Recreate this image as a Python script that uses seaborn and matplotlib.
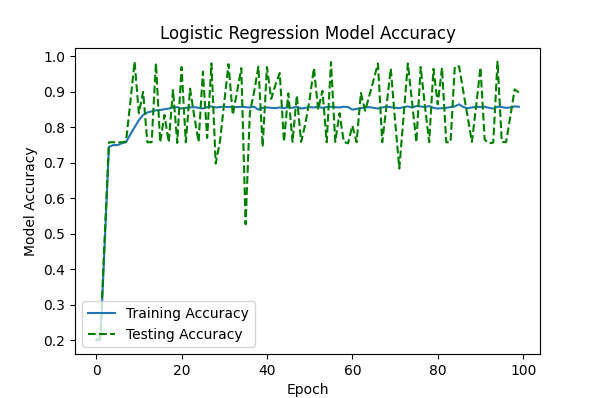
import numpy as np
import pandas as pd
import matplotlib
matplotlib.use("Agg")
import matplotlib.pyplot as plt
import seaborn as sns

epochs = list(range(100))

train_acc = [
    0.200, 0.200, 0.470, 0.745, 0.750, 0.750, 0.755, 0.758, 0.780, 0.800,
    0.820, 0.835, 0.842, 0.845, 0.848, 0.849, 0.851, 0.853, 0.856, 0.857,
    0.853, 0.855, 0.856, 0.857, 0.855, 0.853, 0.857, 0.859, 0.856, 0.857,
    0.858, 0.857, 0.858, 0.857, 0.858, 0.857, 0.856, 0.858, 0.850, 0.855,
    0.856, 0.855, 0.854, 0.856, 0.854, 0.857, 0.855, 0.858, 0.853, 0.855,
    0.857, 0.856, 0.858, 0.855, 0.857, 0.858, 0.857, 0.856, 0.858, 0.857,
    0.850, 0.852, 0.854, 0.856, 0.857, 0.855, 0.853, 0.856, 0.858, 0.857,
    0.855, 0.854, 0.857, 0.859, 0.856, 0.860, 0.859, 0.857, 0.860, 0.855,
    0.853, 0.854, 0.855, 0.857, 0.859, 0.865, 0.857, 0.854, 0.856, 0.858,
    0.857, 0.858, 0.855, 0.853, 0.858, 0.857, 0.855, 0.856, 0.859, 0.858,
]

test_acc = [
    0.200, 0.210, 0.490, 0.758, 0.758, 0.758, 0.758, 0.760, 0.870, 0.985,
    0.840, 0.900, 0.758, 0.758, 0.981, 0.758, 0.835, 0.758, 0.905, 0.756,
    0.970, 0.758, 0.909, 0.830, 0.759, 0.957, 0.770, 0.980, 0.698, 0.760,
    0.870, 0.978, 0.835, 0.900, 0.967, 0.527, 0.842, 0.900, 0.971, 0.745,
    0.970, 0.880, 0.920, 0.953, 0.759, 0.896, 0.759, 0.890, 0.759, 0.810,
    0.880, 0.967, 0.850, 0.903, 0.758, 0.984, 0.759, 0.840, 0.759, 0.755,
    0.805, 0.758, 0.897, 0.847, 0.890, 0.935, 0.980, 0.758, 0.860, 0.966,
    0.820, 0.684, 0.830, 0.980, 0.870, 0.758, 0.970, 0.860, 0.758, 0.965,
    0.865, 0.968, 0.758, 0.758, 0.972, 0.972, 0.900, 0.830, 0.759, 0.860,
    0.969, 0.765, 0.755, 0.757, 0.985, 0.759, 0.758, 0.830, 0.907, 0.898,
]

title = "Logistic Regression Model Accuracy"
xlabel = "Epoch"
ylabel = "Model Accuracy"
labels = ["Training Accuracy", "Testing Accuracy"]

fig, ax = plt.subplots(figsize=(6.0, 3.98), dpi=100)
sns.lineplot(x=epochs, y=train_acc, ax=ax, color="#1f77b4", linewidth=1.5,
             label=labels[0])
sns.lineplot(x=epochs, y=test_acc, ax=ax, color="green", linewidth=1.5,
             linestyle="--", label=labels[1])
ax.set_title(title)
ax.set_xlabel(xlabel)
ax.set_ylabel(ylabel)
ax.legend(loc="lower left")
fig.savefig("out.png", dpi=100)
